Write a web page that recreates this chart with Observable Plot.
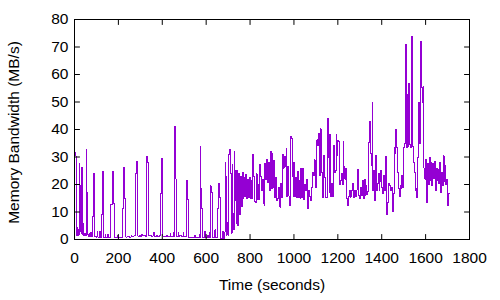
<!DOCTYPE html>
<html><head><meta charset="utf-8">
<script src="https://cdn.jsdelivr.net/npm/d3@7"></script>
<script src="https://cdn.jsdelivr.net/npm/@observablehq/plot@0.6"></script>
<style>html,body{margin:0;padding:0;background:#fff;}</style>
</head><body><div id="chart"></div>
<script>
// Quiet phase (irregular sample times, seconds) and bandwidth (MB/s)
const quietTime = [0,1,2,5,7,9,12,14,17,19,22,24,26,28,30,32,34,36,38,40,45,49,54,56,59,63,67,70,75,77,
  81,86,89,92,100,104,106,112,116,118,122,127,131,134,140,143,152,154,166,172,176,180,196,198,
  220,225,230,234,240,250,258,262,270,278,282,286,289,295,300,305,308,318,323,330,333,336,339,
  345,350,358,362,364,372,380,388,391,396,399,403,410,418,424,430,436,438,446,451,453,456,459,462,
  466,472,474,480,488,495,497,505,511,515,518,521,540,548,552,568,570,573,576,579,583,594,596,
  605,610,614,616,619,622,624,627,630,640,642,652,656,660,664,676,678,683,686,689,692,695,698,
  701,704,708,711,714,718,721,724,727,730,733,736];
const quietBw = [31.5,14.8,31.8,30.5,3.3,1.5,4.2,1.5,3.5,1.8,27.8,3,19.6,16.7,5.7,2,26.3,2,5.7,1.5,2.2,1.5,32.8,17.2,1.8,1.2,2.3,1.2,2.5,1.2,
  8.4,24.1,14.8,1.0,0.9,3,0.9,0.8,3,0.8,9.1,24.7,15,0.8,1.8,0.8,2,0.8,12.7,24.7,13.2,0.8,1.5,0.8,
  11.2,26.3,14.8,0.9,1.2,0.9,1.5,1.2,1.3,23.9,28.4,22,1.2,1.5,1.2,2,1.3,1.5,1.2,30.2,28.1,13.6,1.3,
  1.6,1.2,1.5,2.5,1.2,1.3,1.0,1.5,16.6,29.5,24.3,1.2,1.0,1.4,1.0,1.2,2.2,1.0,1.2,2.5,1.2,41,33.5,22,
  1.0,2.5,1.2,1.5,1.0,2.5,1.0,1.2,21.5,14.4,11.2,0.8,0.9,1.5,0.8,2.0,0.8,33.8,18.4,11.2,0.8,3,0.8,
  1.5,0.8,2.5,0.8,19.6,19.3,17.2,3.3,0.6,3.5,0.6,11.2,20.2,15.4,0.2,3,0.3,2.7,28,22.9,1.5,4,6.3,
  1.5,31,32.6,24.1,2.3,27.3,9.6,3.5,32.1,14.2,25.1,6];

// Busy phase: one sample every 4 s starting at 740 s
const busyStart = 740;
const busyStep = 4;
const busyBw = [
  25,5.1,24,9,23,12,24.5,14.8,22.5,15.5,23.5,15,22,15.2,22.5,14.8,21.5,15,30.9,22.9,13.7,13.3,23.9,14.5,20,
  14.5,27.3,22.9,17.8,21.7,13,12.4,27.8,21.7,29,20.8,28.1,17.8,32.1,18.4,31.2,19,28.7,15.4,22.4,14.2,15,19,15,11.8,
  20.5,15.4,30.9,26,30.2,26.5,33,15.6,26.5,15.8,12.4,37.4,36.6,22.9,15.6,28.1,15.6,22.4,15.2,24.8,15.4,21.5,14.8,26,15.4,
  25.7,14.4,20,17.8,22,17.8,11.2,17.8,15.6,14.2,19,24.5,23.3,29,23.3,19,36.2,34.2,38.4,23.3,40.2,24.5,17.8,15.2,30.5,
  22.6,15.4,15.4,44.1,30,17.2,38.2,15.6,20.5,15.6,34.2,24.5,25,38.2,30.5,36,35.6,20,21.5,24,20,35.6,26.5,22,26,
  14.8,12.4,15.6,17.8,15.4,15.6,17.8,20.5,15.4,17.8,15.6,18,25.5,16.6,16,14.8,19,16,21.5,14.8,22,16,19.6,16.5,17.5,
  35.4,42.9,31.2,27,49.8,17.8,25,14.2,30.5,17.8,20.5,24.1,17.8,21,25,19,16.6,23.3,17.8,30.2,17.2,9.1,13.6,20.5,19.6,
  17.8,19,10.2,16.6,33.3,31.2,40,33.6,24.5,18.4,15.6,19.6,18.4,23.3,19,33.5,35,70.9,33.5,52.6,34,56.8,34.5,33.5,73.8,
  34,28,24.5,17.8,18.4,15.4,30,49.7,35,72,55.1,49.7,55.6,26,22,29,13.6,27.5,20,30,21.5,28,19.5,27.5,22,
  28.5,17.8,26,21.5,25.5,20.5,28,17.2,24.5,19.5,30.5,21,27,20,22,12.4,16.6,16.6];

const xTicks = [0,200,400,600,800,1000,1200,1400,1600,1800];
const yTicks = [0,10,20,30,40,50,60,70,80];
const xLabel = "Time (seconds)";
const yLabel = "Memory Bandwidth (MB/s)";

const rows = [];
quietTime.forEach((t, i) => rows.push({t, v: quietBw[i]}));
busyBw.forEach((v, i) => rows.push({t: busyStart + i * busyStep, v}));

const tickShape = {draw(context, l) { context.moveTo(0, 0); context.lineTo(0, -l); }};
const tickLen = 5;
const tickOpts = {length: tickLen, anchor: "start", shape: tickShape, stroke: "#000", strokeWidth: 1};
const fmt = d => String(d);
const fs = 15.5;

const chart = Plot.plot({
  width: 500, height: 300,
  marginLeft: 74, marginRight: 31, marginTop: 19, marginBottom: 61,
  style: {fontFamily: "'Liberation Sans', Arial, sans-serif", fontSize: fs + "px", background: "#fff", color: "#000"},
  x: {domain: [0, 1800]},
  y: {domain: [0, 80]},
  marks: [
    Plot.line(rows, {x: "t", y: "v", stroke: "#9400d3", strokeWidth: 1, curve: "step-after", shapeRendering: "crispEdges"}),
    Plot.frame({stroke: "#000", strokeWidth: 1}),
    Plot.vector(xTicks, {x: d => d, frameAnchor: "bottom", rotate: 0, ...tickOpts}),
    Plot.vector(xTicks, {x: d => d, frameAnchor: "top", rotate: 180, ...tickOpts}),
    Plot.vector(yTicks, {y: d => d, frameAnchor: "left", rotate: 90, ...tickOpts}),
    Plot.vector(yTicks, {y: d => d, frameAnchor: "right", rotate: -90, ...tickOpts}),
    Plot.axisX(xTicks, {anchor: "bottom", tickSize: 0, tickPadding: 12, fontSize: fs, tickFormat: fmt, label: null}),
    Plot.axisY(yTicks, {anchor: "left", tickSize: 0, tickPadding: 6, fontSize: fs, tickFormat: fmt, label: null}),
    Plot.text([xLabel], {text: d => d, frameAnchor: "bottom", dy: 50, fontSize: fs, fill: "#000"}),
    Plot.text([yLabel], {text: d => d, frameAnchor: "left", textAnchor: "middle", rotate: -90, dx: -60, dy: 3, fontSize: fs, fill: "#000"})
  ]
});
document.getElementById("chart").appendChild(chart);
</script>
</body></html>
